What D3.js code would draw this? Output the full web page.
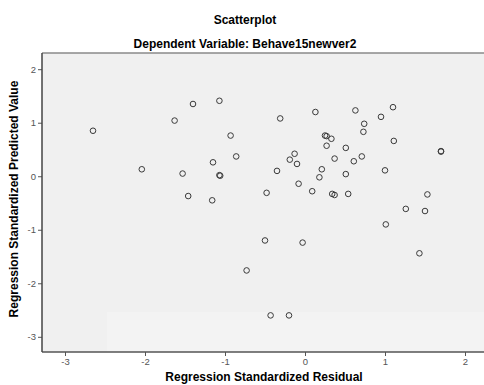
<!DOCTYPE html>
<html>
<head>
<meta charset="utf-8">
<script src="https://cdn.jsdelivr.net/npm/d3@7"></script>
<style>
  body { margin: 0; background: #fff; }
  svg { display: block; font-family: "Liberation Sans", Arial, sans-serif; }
</style>
</head>
<body>
<div id="chart"></div>
<script>
const width = 484;
const height = 385;

// standardized residual (x) and standardized predicted value (y)
const residual = [
  -2.65, -1.40, -1.07, -1.63, -0.93, -0.86, -1.15, -2.04, -1.53, -1.07, -1.06, -1.46, -1.16,
  -0.31, 0.13, 0.63, 1.10, 0.95, 0.74, 0.73, 0.25, 0.27, 0.33, 0.27, 0.51, 1.11, 1.70, 1.70,
  -0.13, -0.19, -0.10, 0.37, 0.61, 0.71, -0.35, 0.21, 0.18, 0.51, 1.00, -0.08, -0.48, 0.09,
  0.34, 0.37, 0.54, 1.53, 1.26, 1.50, 1.01, -0.50, -0.03, 1.43, -0.73, -0.43, -0.20
];
const predicted = [
  0.85, 1.35, 1.41, 1.04, 0.76, 0.37, 0.26, 0.13, 0.05, 0.02, 0.01, -0.37, -0.45,
  1.08, 1.20, 1.23, 1.29, 1.11, 0.98, 0.83, 0.76, 0.75, 0.70, 0.57, 0.53, 0.66, 0.46, 0.47,
  0.42, 0.31, 0.23, 0.33, 0.28, 0.37, 0.10, 0.13, -0.02, 0.04, 0.11, -0.14, -0.31, -0.28,
  -0.33, -0.35, -0.33, -0.34, -0.61, -0.65, -0.90, -1.20, -1.24, -1.44, -1.76, -2.60, -2.60
];
const xTicks = [-3, -2, -1, 0, 1, 2];
const yTicks = [-3, -2, -1, 0, 1, 2];

const points = residual.map((r, i) => ({ x: r, y: predicted[i] }));

const plot = { left: 42, top: 53, right: 484, bottom: 352 };

const x = d3.scaleLinear().domain([-3, 2]).range([65, 465]);
const y = d3.scaleLinear().domain([-3, 2]).range([336.8, 69.2]);

const svg = d3.select("#chart").append("svg")
  .attr("width", width)
  .attr("height", height);

// titles
svg.append("text")
  .attr("x", 245).attr("y", 24)
  .attr("text-anchor", "middle")
  .style("font-size", "12px").style("font-weight", "bold")
  .text("Scatterplot");
svg.append("text")
  .attr("x", 245).attr("y", 48)
  .attr("text-anchor", "middle")
  .style("font-size", "12px").style("font-weight", "bold")
  .text("Dependent Variable: Behave15newver2");

// plot background
svg.append("rect")
  .attr("x", plot.left).attr("y", plot.top)
  .attr("width", plot.right - plot.left).attr("height", plot.bottom - plot.top)
  .attr("fill", "#f0f0f0");
svg.append("rect")
  .attr("x", 107).attr("y", 312)
  .attr("width", plot.right - 107).attr("height", plot.bottom - 312)
  .attr("fill", "#f3f3f3");

// top frame line
svg.append("line")
  .attr("x1", plot.left).attr("x2", plot.right)
  .attr("y1", plot.top).attr("y2", plot.top)
  .attr("stroke", "#8a8a8a").attr("stroke-width", 1.5);

// axes
const xAxis = d3.axisBottom(x).tickValues(xTicks).tickSize(4).tickPadding(2).tickFormat(d3.format("d"));
const yAxis = d3.axisLeft(y).tickValues(yTicks).tickSize(4).tickPadding(2).tickFormat(d3.format("d"));

const gx = svg.append("g").attr("transform", `translate(0,${plot.bottom})`).call(xAxis);
const gy = svg.append("g").attr("transform", `translate(${plot.left},0)`).call(yAxis);

[gx, gy].forEach(g => {
  g.select(".domain").remove();
  g.selectAll(".tick line").attr("stroke", "#555");
  g.selectAll(".tick text")
    .attr("fill", "#555")
    .style("font-size", "9.5px")
    .style("font-family", "Liberation Sans, Arial, sans-serif");
});
gx.selectAll(".tick text").text(d => d < 0 ? "-" + Math.abs(d) : d);
gy.selectAll(".tick text").text(d => d < 0 ? "-" + Math.abs(d) : d);

svg.append("line")
  .attr("x1", plot.left).attr("x2", plot.right)
  .attr("y1", plot.bottom).attr("y2", plot.bottom)
  .attr("stroke", "#555").attr("stroke-width", 1.5);
svg.append("line")
  .attr("x1", plot.left).attr("x2", plot.left)
  .attr("y1", plot.top).attr("y2", plot.bottom)
  .attr("stroke", "#444").attr("stroke-width", 1.5);

// points
svg.append("g")
  .selectAll("circle")
  .data(points)
  .enter()
  .append("circle")
  .attr("cx", d => x(d.x))
  .attr("cy", d => y(d.y))
  .attr("r", 2.8)
  .attr("fill", "none")
  .attr("stroke", "#3a3a3a")
  .attr("stroke-width", 1);

// axis titles
svg.append("text")
  .attr("x", 264).attr("y", 381)
  .attr("text-anchor", "middle")
  .style("font-size", "12px").style("font-weight", "bold")
  .text("Regression Standardized Residual");
svg.append("text")
  .attr("transform", "translate(18,199) rotate(-90)")
  .attr("text-anchor", "middle")
  .style("font-size", "12px").style("font-weight", "bold")
  .text("Regression Standardized Predicted Value");
</script>
</body>
</html>
